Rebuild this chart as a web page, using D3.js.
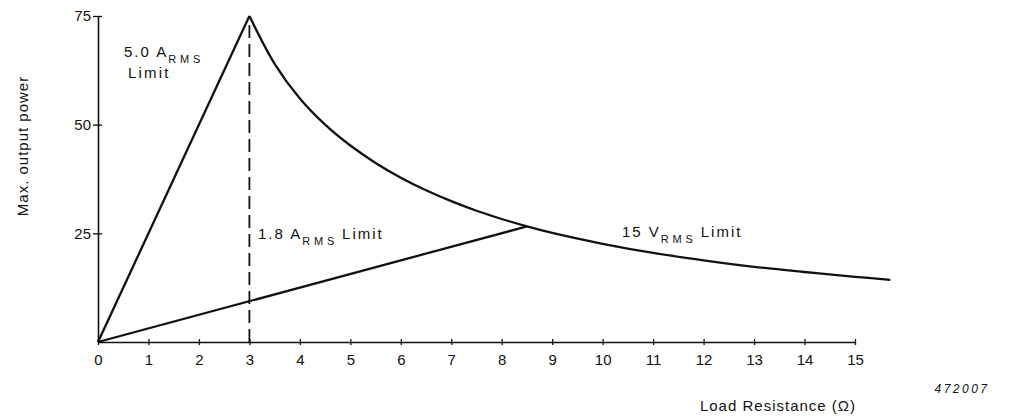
<!DOCTYPE html>
<html>
<head>
<meta charset="utf-8">
<script src="https://cdn.jsdelivr.net/npm/d3@7"></script>
<style>
  html, body { margin: 0; padding: 0; background: #fff; }
  svg { display: block; }
  text { font-family: "Liberation Sans", Arial, Helvetica, sans-serif; fill: #111; }
</style>
</head>
<body>
<svg id="chart" width="1023" height="417"></svg>
<script>
// ---- data ----
const xTickValues = [0,1,2,3,4,5,6,7,8,9,10,11,12,13,14,15];
const yTickValues = [25, 50, 75];
// 5.0 A RMS current limit (straight line)
const currentLimitHigh = [[0, 0], [3, 75]];
// 1.8 A RMS current limit (straight line)
const currentLimitLow = [[0, 0], [8.5, 26.6]];
// 15 V RMS voltage limit (curve)
const voltageLimit = [
  [3, 75], [3.5, 64], [4, 56], [4.5, 50], [5, 45.2], [5.5, 41.2], [6, 37.8],
  [6.5, 34.9], [7, 32.4], [7.5, 30.2], [8, 28.3], [8.5, 26.6], [9, 25.1],
  [10, 22.6], [11, 20.5], [12, 18.8], [13, 17.3], [14, 16.1], [15, 15], [15.7, 14.3]
];
// dashed marker at 3 ohm
const markerLine = [[3, 0], [3, 74]];

// ---- layout ----
const svg = d3.select("#chart");
const x = d3.scaleLinear().domain([0, 15]).range([98, 855]);
const y = d3.scaleLinear().domain([0, 75]).range([342, 16]);

const line = d3.line().x(d => x(d[0])).y(d => y(d[1]));
const curve = d3.line().x(d => x(d[0])).y(d => y(d[1])).curve(d3.curveCatmullRom.alpha(0.5));

// x axis
const xAxis = svg.append("g")
  .attr("transform", `translate(0,${y(0)})`)
  .call(d3.axisBottom(x).tickValues(xTickValues).tickSize(4).tickSizeOuter(0).tickPadding(8));
xAxis.select(".domain").attr("stroke", "#111").attr("stroke-width", 1.6);
xAxis.selectAll(".tick line").attr("y1", -3).attr("y2", 3).attr("stroke", "#111").attr("stroke-width", 1.3);
xAxis.selectAll(".tick text").attr("font-size", 15).attr("fill", "#111")
  .attr("font-family", '"Liberation Sans", Arial, sans-serif');

// y axis
const yAxis = svg.append("g")
  .attr("transform", `translate(${x(0)},0)`)
  .call(d3.axisLeft(y).tickValues(yTickValues).tickSize(5).tickSizeOuter(0).tickPadding(2));
yAxis.select(".domain").attr("stroke", "#111").attr("stroke-width", 1.6);
yAxis.selectAll(".tick line").attr("x1", -5).attr("x2", 4).attr("stroke", "#111").attr("stroke-width", 1.3);
yAxis.selectAll(".tick text").attr("font-size", 15).attr("fill", "#111")
  .attr("font-family", '"Liberation Sans", Arial, sans-serif');

// lines
svg.append("path").datum(currentLimitHigh).attr("d", line)
  .attr("fill", "none").attr("stroke", "#111").attr("stroke-width", 2.3);
svg.append("path").datum(currentLimitLow).attr("d", line)
  .attr("fill", "none").attr("stroke", "#111").attr("stroke-width", 2.3);
svg.append("path").datum(voltageLimit).attr("d", curve)
  .attr("fill", "none").attr("stroke", "#111").attr("stroke-width", 2.3);
svg.append("path").datum(markerLine).attr("d", line)
  .attr("fill", "none").attr("stroke", "#111").attr("stroke-width", 1.8)
  .attr("stroke-dasharray", "13,6");

// labels with subscripts
function subLabel(px, py, main, sub, tail) {
  const t = svg.append("text").attr("x", px).attr("y", py).attr("font-size", 15).attr("letter-spacing", 2);
  t.append("tspan").text(main);
  t.append("tspan").attr("dy", 6).attr("font-size", 11).attr("letter-spacing", 3.8).attr("dx", 0).text(sub);
  if (tail) t.append("tspan").attr("dy", -6).attr("dx", 4).attr("letter-spacing", 2).text(tail);
  return t;
}
subLabel(124, 57, "5.0 A", "RMS");
svg.append("text").attr("x", 128).attr("y", 78).attr("font-size", 15).attr("letter-spacing", 2.2).text("Limit");
subLabel(258, 239, "1.8 A", "RMS", "Limit");
subLabel(622, 237, "15 V", "RMS", "Limit");

// axis titles
svg.append("text")
  .attr("transform", `translate(28,146) rotate(-90)`)
  .attr("text-anchor", "middle").attr("font-size", 15).attr("letter-spacing", 1)
  .text("Max. output power");
svg.append("text").attr("x", 778).attr("y", 411).attr("text-anchor", "middle")
  .attr("font-size", 15).attr("letter-spacing", 1).text("Load Resistance (Ω)");
svg.append("text").attr("x", 962).attr("y", 393).attr("text-anchor", "middle")
  .attr("font-size", 12).attr("font-style", "italic").attr("letter-spacing", 2.5)
  .attr("font-family", '"DejaVu Sans", sans-serif').text("472007");
</script>
</body>
</html>
